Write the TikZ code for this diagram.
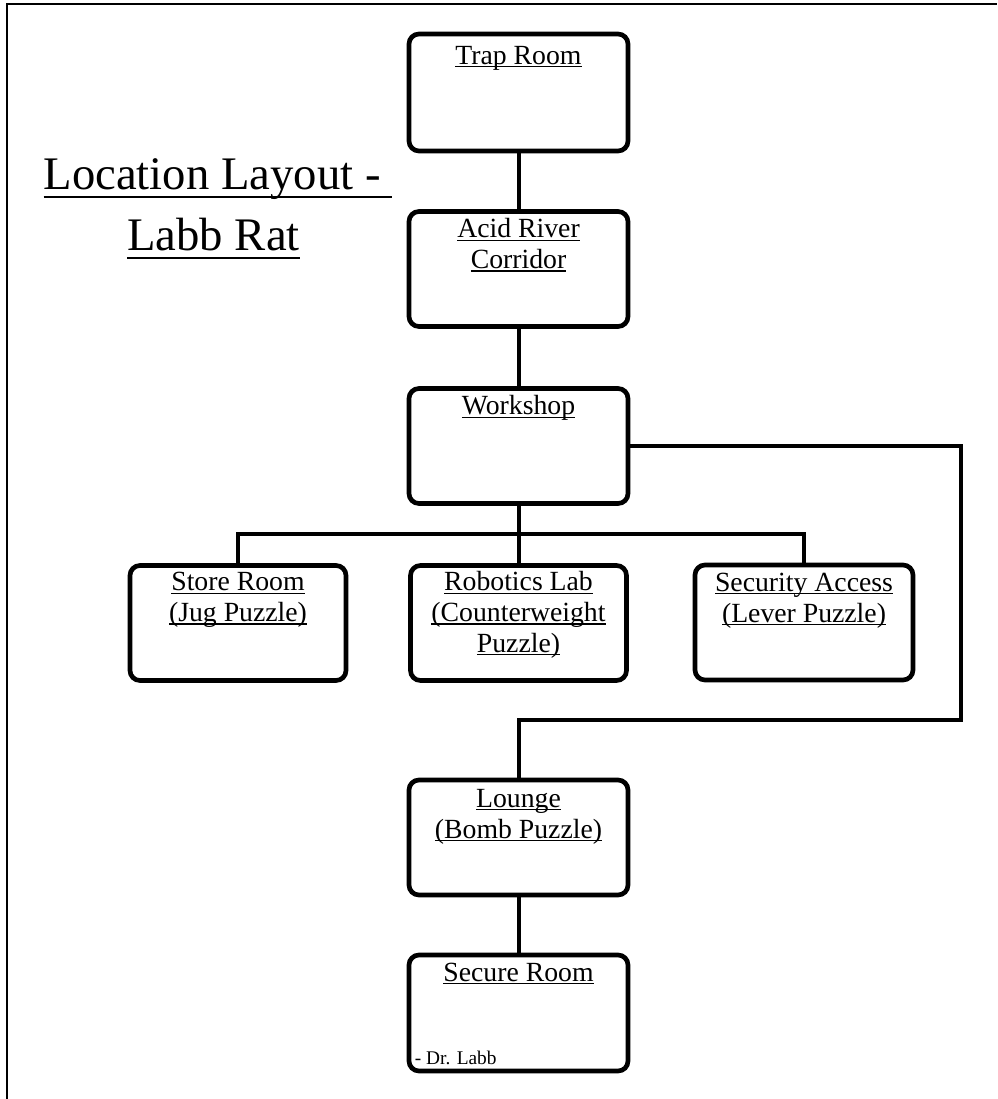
\documentclass[tikz,border=0pt]{standalone}
\usepackage{fontspec}
\setmainfont{Liberation Serif}

% underline drawn at a fixed distance below the baseline
\newsavebox\ulbox
\newcommand\ulword[3]{\sbox\ulbox{#3}\leavevmode\rlap{\rule[-#1]{\wd\ulbox}{#2}}\usebox\ulbox}
\newcommand\roomul[1]{\ulword{2.3pt}{0.9pt}{#1}}
\newcommand\titleul[1]{\ulword{6.6pt}{1.5pt}{#1}}

\begin{document}
\begin{tikzpicture}[x=0.75pt,y=-0.75pt,
  room/.style={draw,line width=3.5pt,rounded corners=7.5pt,minimum width=164.25pt,
    minimum height=86.25pt,inner sep=0pt},
  link/.style={line width=3pt},
  roomname/.style={anchor=north,inner sep=0pt,align=center,
    font=\fontsize{20.8}{23}\selectfont},
  titletext/.style={anchor=base,inner sep=0pt,font=\fontsize{35}{46}\selectfont},
]
\useasboundingbox (0,0) rectangle (997,1099);

% page frame
\draw[line width=1.6pt] (7,1099) -- (7,4) -- (997,4);

% title
\node[titletext] (title1) at (218,189) {\titleul{Location Layout -\hspace{0.25em}}};
\node[titletext] (title2) at (213.5,250) {\titleul{Labb Rat}};

% rooms
\node[room,minimum height=87.75pt] (trap) at (518.5,92.5) {};
\node[room] (acid)   at (518.5,269) {};
\node[room] (work)   at (518.5,446) {};
\node[room,minimum width=162pt] (store) at (238,623) {};
\node[room,minimum width=162pt] (robot) at (518.5,623) {};
\node[room,minimum width=163.5pt] (secur) at (804,622.5) {};
\node[room] (lounge) at (518.5,837.5) {};
\node[room,minimum height=87pt] (secure) at (518.5,1013) {};

% room names
\path (trap.north)   ++(0,11)  node[roomname] (traplbl)   {\strut\roomul{Trap Room}};
\path (acid.north)   ++(0,7)   node[roomname] (acidlbl)   {\strut\roomul{Acid River}\\\strut\roomul{Corridor}};
\path (work.north)   ++(0,7)   node[roomname] (worklbl)   {\strut\roomul{Workshop}};
\path (store.north)  ++(0,6)   node[roomname] (storelbl)  {\strut\roomul{Store Room}\\\strut\roomul{(Jug Puzzle)}};
\path (robot.north)  ++(0,6)   node[roomname] (robotlbl)  {\strut\roomul{Robotics Lab}\\\strut\roomul{(Counterweight}\\\strut\roomul{Puzzle)}};
\path (secur.north)  ++(0,7)   node[roomname] (securlbl)  {\strut\roomul{Security Access}\\\strut\roomul{(Lever Puzzle)}};
\path (lounge.north) ++(0,8)   node[roomname] (loungelbl) {\strut\roomul{Lounge}\\\strut\roomul{(Bomb Puzzle)}};
\path (secure.north) ++(0,7)   node[roomname] (securelbl) {\strut\roomul{Secure Room}};
\path (secure.south west) ++(8,-9) node[anchor=base west,inner sep=0pt,
  font=\fontsize{14.5}{17}\selectfont] (author) {- Dr. Labb};

% connections
\coordinate (split) at (518.5,534);
\coordinate (loopA) at (961,446);
\coordinate (loopB) at (961,720);
\draw[link] (trap.south) -- (acid.north);
\draw[link] (acid.south) -- (work.north);
\draw[link] (work.south) -- (robot.north);
\draw[link] (store.north) |- (split) -| (secur.north);
\draw[link] (work.east) -- (loopA) -- (loopB) -| (lounge.north);
\draw[link] (lounge.south) -- (secure.north);
\end{tikzpicture}
\end{document}
